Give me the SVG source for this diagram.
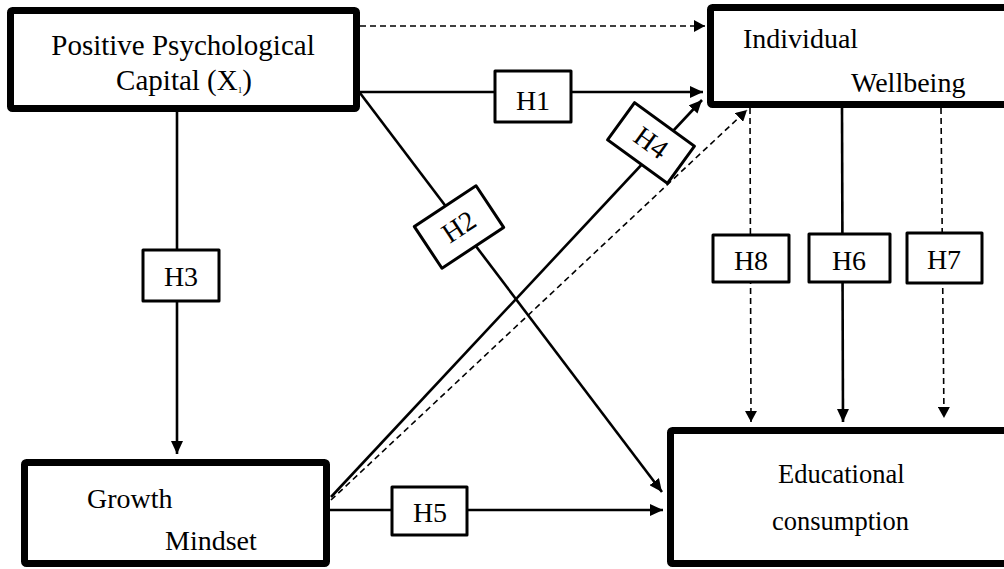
<svg xmlns="http://www.w3.org/2000/svg" width="1004" height="569" viewBox="0 0 1004 569">
<style>
.node{fill:#fff;stroke:#000;stroke-width:7;stroke-linejoin:round}
.lab{fill:#fff;stroke:#000;stroke-width:3;stroke-linejoin:round}
.t{fill:#000}
.ht{font-size:28px;fill:#000;text-anchor:middle}
.solid{stroke:#000;stroke-width:2.6;fill:none}
.dash{stroke:#000;stroke-width:1.6;fill:none;stroke-dasharray:6 4}
</style>
<defs>
<marker id="ah" markerUnits="userSpaceOnUse" markerWidth="14" markerHeight="12" refX="13" refY="6" orient="auto"><path d="M0,0 L13,6 L0,12 z" fill="#000"/></marker>
<marker id="ahs" markerUnits="userSpaceOnUse" markerWidth="12" markerHeight="12" refX="11" refY="6" orient="auto"><path d="M0,0 L11,6 L0,12 z" fill="#000"/></marker>
</defs>
<g id="connectors">
<line class="dash" x1="360" y1="26" x2="705" y2="26" marker-end="url(#ahs)"/>
<line class="solid" x1="360" y1="92" x2="703" y2="92" marker-end="url(#ah)"/>
<line class="solid" x1="360" y1="93" x2="662" y2="492" marker-end="url(#ah)"/>
<line class="solid" x1="177" y1="112" x2="177" y2="454" marker-end="url(#ah)"/>
<line class="solid" x1="331" y1="497" x2="702" y2="100" marker-end="url(#ah)"/>
<line class="dash" x1="331" y1="500" x2="747" y2="110" marker-end="url(#ahs)"/>
<line class="solid" x1="330" y1="510" x2="663" y2="510" marker-end="url(#ah)"/>
<line class="dash" x1="750" y1="108" x2="751" y2="422" marker-end="url(#ahs)"/>
<line class="solid" x1="842" y1="108" x2="843" y2="422" marker-end="url(#ah)"/>
<line class="dash" x1="941" y1="108" x2="944" y2="418" marker-end="url(#ahs)"/>
</g>
<g font-family="'Liberation Serif', 'Times New Roman', serif">
<g id="ppc">
<rect class="node" x="10.5" y="10.5" width="346" height="98" rx="2"/>
<text class="t" x="183" y="55" font-size="29" text-anchor="middle">Positive Psychological</text>
<text class="t" x="184" y="90" font-size="29" text-anchor="middle">Capital (X<tspan font-size="9" dy="3">1</tspan><tspan dy="-3">)</tspan></text>
</g>
<g id="wellbeing">
<rect class="node" x="710.5" y="7.5" width="310" height="97" rx="2"/>
<text class="t" x="743" y="48" font-size="28">Individual</text>
<text class="t" x="851" y="92" font-size="28">Wellbeing</text>
</g>
<g id="growth">
<rect class="node" x="24.5" y="462.5" width="302" height="101" rx="2"/>
<text class="t" x="87" y="508" font-size="28">Growth</text>
<text class="t" x="165" y="550" font-size="28">Mindset</text>
</g>
<g id="education">
<rect class="node" x="670.5" y="430.5" width="350" height="133" rx="2"/>
<text class="t" x="778" y="483" font-size="26.5">Educational</text>
<text class="t" x="772" y="530" font-size="26.5">consumption</text>
</g>
<g id="h1"><rect class="lab" x="495" y="71" width="76" height="51"/><text class="ht" x="533" y="110">H1</text></g>
<g id="h2" transform="translate(459,227) rotate(-33.5)"><rect class="lab" x="-37" y="-25" width="74" height="50"/><text class="ht" x="0" y="9">H2</text></g>
<g id="h3"><rect class="lab" x="143" y="250" width="76" height="51"/><text class="ht" x="181" y="286">H3</text></g>
<g id="h4" transform="translate(651,143) rotate(36)"><rect class="lab" x="-37" y="-23" width="74" height="46"/><text class="ht" x="0" y="9">H4</text></g>
<g id="h5"><rect class="lab" x="392" y="487" width="75" height="48"/><text class="ht" x="430" y="522">H5</text></g>
<g id="h8"><rect class="lab" x="713" y="235" width="76" height="47"/><text class="ht" x="751" y="270">H8</text></g>
<g id="h6"><rect class="lab" x="809" y="234" width="81" height="48"/><text class="ht" x="849" y="270">H6</text></g>
<g id="h7"><rect class="lab" x="907" y="233" width="75" height="50"/><text class="ht" x="944" y="269">H7</text></g>
</g>
</svg>
